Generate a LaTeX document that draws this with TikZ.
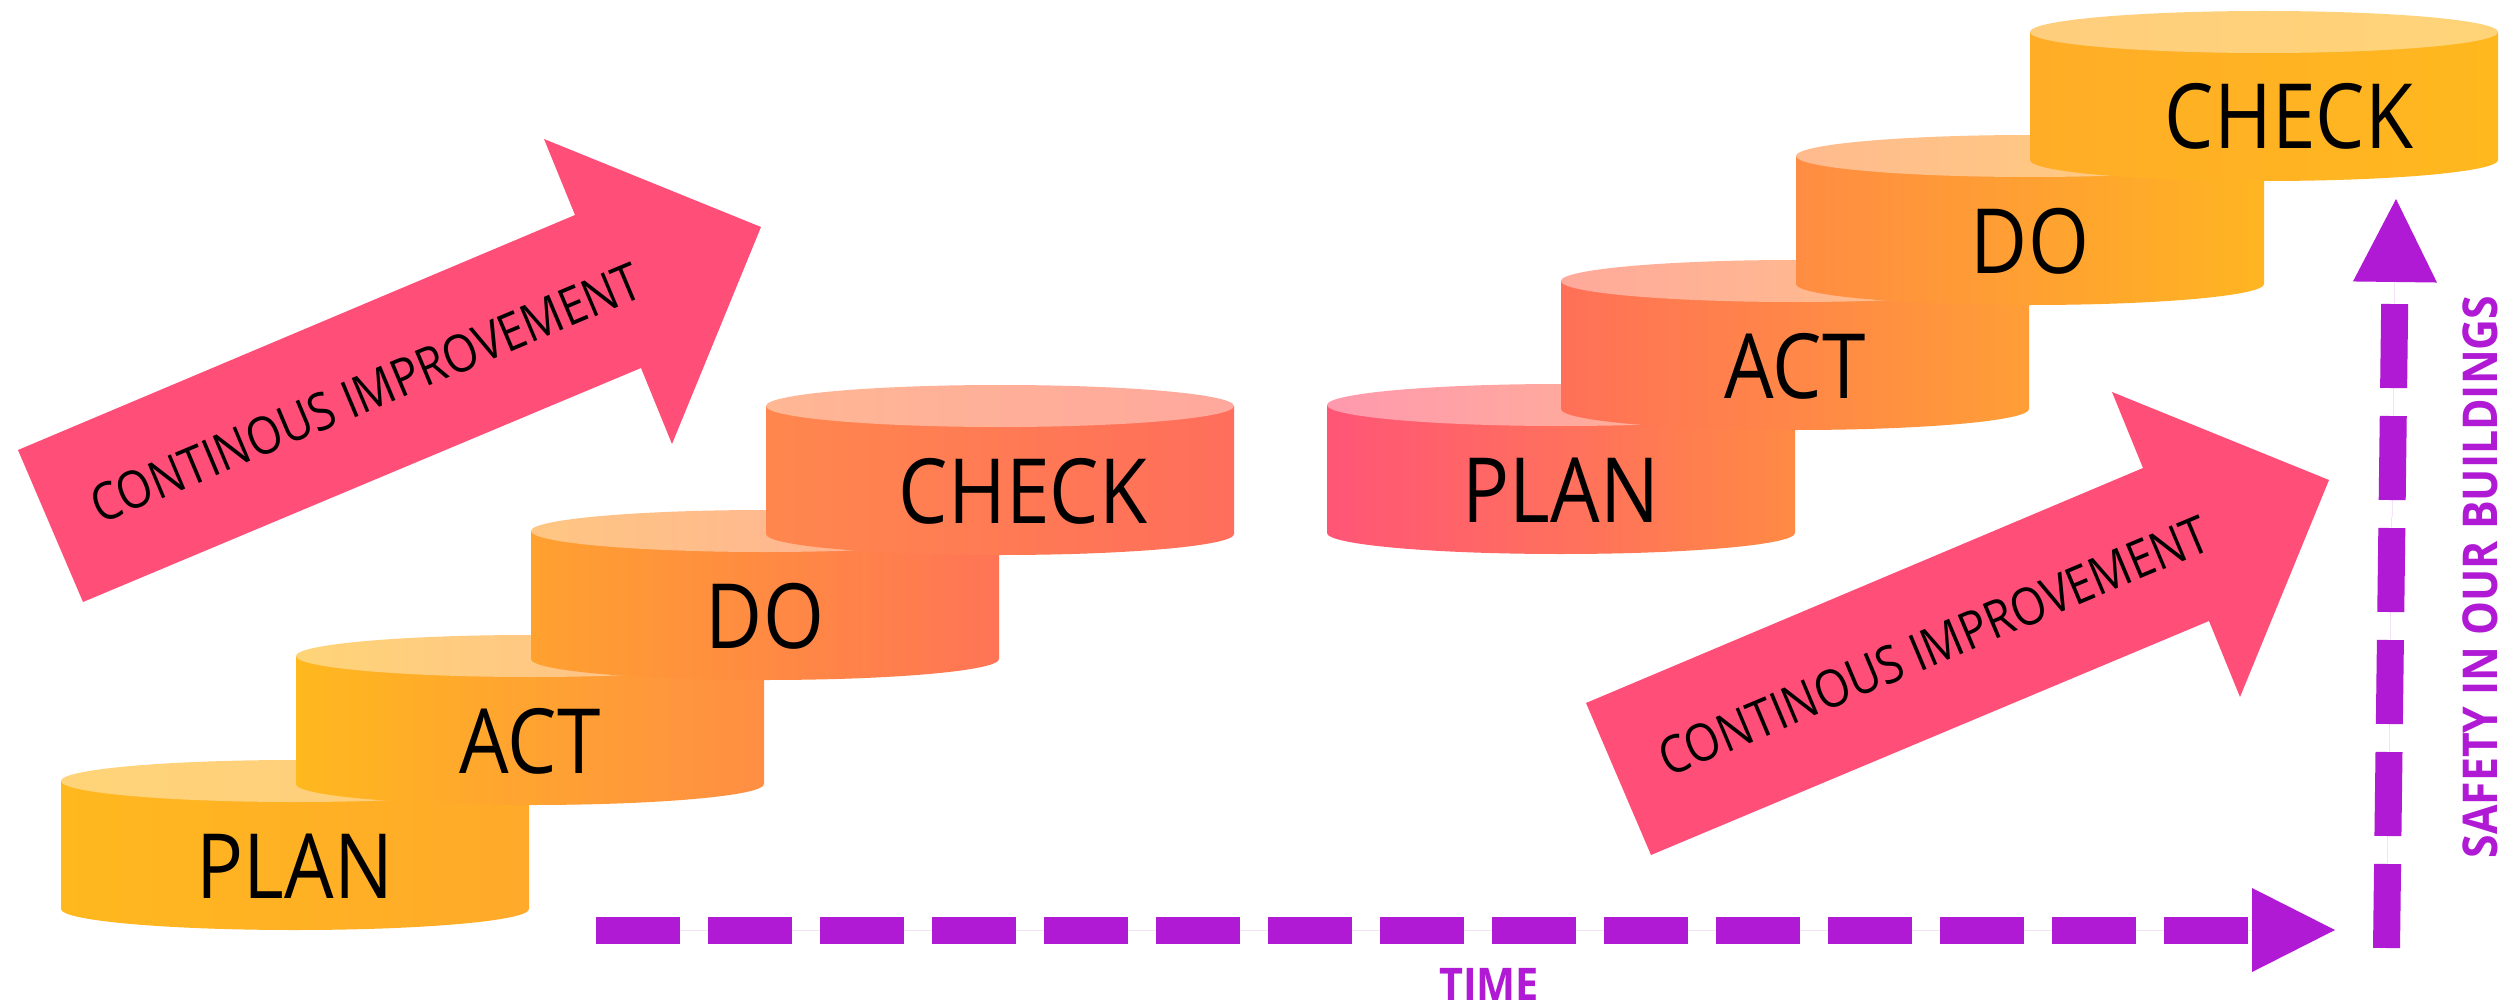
\documentclass[tikz,border=0pt]{standalone}
\usepackage{fontspec}
\setmainfont{Open Sans}
\usetikzlibrary{arrows.meta}

% step colours: body left / body right
\definecolor{lpA}{HTML}{FFB81E}\definecolor{lpB}{HTML}{FFAA2A}
\definecolor{laA}{HTML}{FFB81E}\definecolor{laB}{HTML}{FF8E44}
\definecolor{ldA}{HTML}{FFA12F}\definecolor{ldB}{HTML}{FF7456}
\definecolor{lcA}{HTML}{FF874D}\definecolor{lcB}{HTML}{FF6E5C}
\definecolor{rpA}{HTML}{FF5577}\definecolor{rpB}{HTML}{FF8A44}
\definecolor{raA}{HTML}{FF7058}\definecolor{raB}{HTML}{FF9E36}
\definecolor{rdA}{HTML}{FF8C43}\definecolor{rdB}{HTML}{FFB521}
\definecolor{rcA}{HTML}{FFAD27}\definecolor{rcB}{HTML}{FFB81E}
\definecolor{arrowpink}{HTML}{FF4F78}
\definecolor{axispurple}{HTML}{B01AD4}

% one step of the staircase: a flat cylinder with a lighter lid
% #1 name, #2 left x, #3 lid centre y, #4/#5 body colours, #6 label, #7 label shift
\newcommand\stagecyl[7]{%
  \shade[left color=#4, right color=#5]
    (#2,#3) -- (#2,{#3+128})
    .. controls (#2,{#3+139.6}) and ({#2+104.8},{#3+149}) .. ({#2+234},{#3+149})
    .. controls ({#2+363.2},{#3+149}) and ({#2+468},{#3+139.6}) .. ({#2+468},{#3+128})
    -- ({#2+468},#3) -- cycle;
  \shade[left color=#4!60!white, right color=#5!60!white]
    ({#2+234},#3) ellipse [x radius=234, y radius=21];
  \node[steplabel] (#1) at ({#2+234+#7},{#3+117}) {\scalebox{0.87}[1]{#6}};
}

\begin{document}
\begin{tikzpicture}[x=1pt,y=-1pt,
  steplabel/.style={anchor=base, inner sep=0pt, text=black,
    font=\fontsize{90}{90}\selectfont},
  improvelabel/.style={anchor=base, inner sep=0pt, text=black, rotate=22.8,
    font=\fontsize{52}{52}\selectfont},
  axislabel/.style={inner sep=0pt, text=axispurple,
    font=\bfseries\fontsize{45}{45}\selectfont},
  axisline/.style={draw=axispurple, fill=axispurple, line width=27pt,
    dash pattern=on 84pt off 28pt,
    -{Triangle[length=83pt, width=84pt, line width=0pt]}},
  improvearrow/.style={fill=arrowpink}
]
\useasboundingbox (0,0) rectangle (2514,1003);
\fill[white] (0,0) rectangle (2514,1003);

% left staircase
\stagecyl{lplan}{61}{781}{lpA}{lpB}{PLAN}{0}
\stagecyl{lact}{296}{656}{laA}{laB}{ACT}{0}
\stagecyl{ldo}{531}{531}{ldA}{ldB}{DO}{0}
\stagecyl{lcheck}{766}{406}{lcA}{lcB}{CHECK}{23}

% right staircase
\stagecyl{rplan}{1327}{405}{rpA}{rpB}{PLAN}{0}
\stagecyl{ract}{1561}{281}{raA}{raB}{ACT}{0}
\stagecyl{rdo}{1796}{156}{rdA}{rdB}{DO}{0}
\stagecyl{rcheck}{2030}{32}{rcA}{rcB}{CHECK}{25}

% improvement arrows
\fill[improvearrow] (18,450) -- (83,602) -- (641,368) -- (672,444)
  -- (761,227) -- (544,139) -- (575,215) -- cycle;
\node[improvelabel] (cileft) at (373,410)
  {\scalebox{0.866}[1]{CONTINOUS IMPROVEMENT}};

\fill[improvearrow] (1586,703) -- (1651,855) -- (2209,621) -- (2240,697)
  -- (2329,480) -- (2112,392) -- (2143,468) -- cycle;
\node[improvelabel] (ciright) at (1941,663)
  {\scalebox{0.866}[1]{CONTINOUS IMPROVEMENT}};

% axes
\coordinate (tstart) at (596,930);
\coordinate (tend) at (2335,930);
\coordinate (sstart) at (2386.5,948);
\coordinate (send) at (2396,199);
\draw[axisline] (tstart) -- (tend);
\draw[axisline] (sstart) -- (send);

\node[axislabel, anchor=base] (time) at (1489,1000)
  {\scalebox{0.92}[1]{TIME}};
\node[axislabel, rotate=90, font=\bfseries\fontsize{48}{48}\selectfont]
  (safety) at (2480,577) {\scalebox{0.89}[1]{SAFETY IN OUR BUILDINGS}};
\end{tikzpicture}
\end{document}
